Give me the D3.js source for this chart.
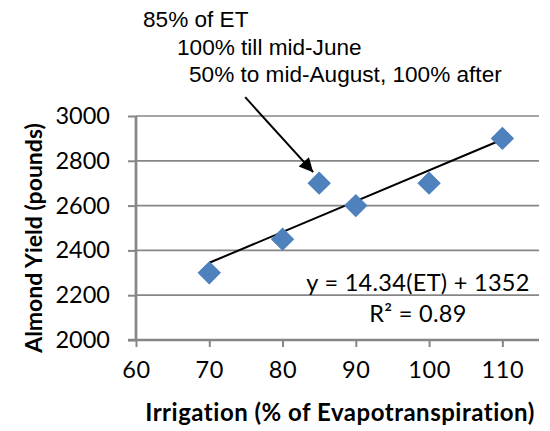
<!DOCTYPE html>
<html>
<head>
<meta charset="utf-8">
<script src="https://cdn.jsdelivr.net/npm/d3@7"></script>
<style>
  body { margin: 0; background: #fff; }
  svg { display: block; }
</style>
</head>
<body>
<div id="chart"></div>
<script>
// data
const irrigation = [70, 80, 85, 90, 100, 110];
const yieldLbs = [2300, 2450, 2700, 2600, 2700, 2900];
const xTicks = [60, 70, 80, 90, 100, 110];
const yTicks = [2000, 2200, 2400, 2600, 2800, 3000];
const noteLines = ["85% of ET", "100% till mid-June", "50% to mid-August, 100% after"];
const equationLines = ["y = 14.34(ET) + 1352", "R² = 0.89"];

const W = 550, H = 431;
const margin = {top: 116, right: 11, bottom: 91, left: 136};
const width = W - margin.left - margin.right,
      height = H - margin.top - margin.bottom;

const axisColor = "#868686";
const tickFont = "Lato, 'Open Sans', sans-serif";

const svg = d3.select("#chart")
  .append("svg")
    .attr("width", W)
    .attr("height", H);

const g = svg.append("g")
    .attr("transform", `translate(${margin.left},${margin.top})`);

const x = d3.scaleLinear().domain([60, 115]).range([0, width]);
const y = d3.scaleLinear().domain([2000, 3000]).range([height, 0]);

// horizontal gridlines
g.selectAll("line.grid")
  .data(yTicks.filter(d => d > 2000))
  .enter().append("line")
    .attr("class", "grid")
    .attr("x1", 0).attr("x2", width)
    .attr("y1", d => y(d)).attr("y2", d => y(d))
    .attr("stroke", axisColor)
    .attr("stroke-width", 1.7);

// Y axis
const yAxis = g.append("g")
  .call(d3.axisLeft(y).tickValues(yTicks).tickSize(8).tickPadding(18).tickFormat(d3.format("d")));
yAxis.select(".domain").attr("stroke", axisColor).attr("stroke-width", 2.7);
yAxis.selectAll(".tick line").attr("stroke", axisColor).attr("stroke-width", 2);
yAxis.selectAll("text")
  .attr("fill", "#000")
  .style("font-family", tickFont)
  .style("font-size", "23.5px");

// X axis
const xAxis = g.append("g")
  .attr("transform", `translate(0,${height})`)
  .call(d3.axisBottom(x).tickValues(xTicks).tickSize(7).tickPadding(14).tickFormat(d3.format("d")));
xAxis.select(".domain").attr("stroke", axisColor).attr("stroke-width", 2.7);
xAxis.selectAll(".tick line").attr("stroke", axisColor).attr("stroke-width", 2);
xAxis.selectAll("text")
  .attr("fill", "#000")
  .style("font-family", tickFont)
  .style("font-size", "23.5px")
  .style("letter-spacing", "0.6px");
// remove the outer tick caps d3 draws on the domain path
yAxis.select(".domain").attr("d", `M0,${height + 1}V0`);
xAxis.select(".domain").attr("d", `M-8,0H${width}`);

// least squares trend line over the data
const mx = d3.mean(irrigation), my = d3.mean(yieldLbs);
const sxy = d3.sum(irrigation, (v, i) => (v - mx) * (yieldLbs[i] - my));
const sxx = d3.sum(irrigation, v => (v - mx) * (v - mx));
const slope = sxy / sxx, intercept = my - slope * mx;
const xExt = d3.extent(irrigation);

g.append("line")
  .attr("x1", x(xExt[0])).attr("y1", y(intercept + slope * xExt[0]))
  .attr("x2", x(xExt[1])).attr("y2", y(intercept + slope * xExt[1]))
  .attr("stroke", "#000")
  .attr("stroke-width", 2);

// diamond markers
const diamond = d3.symbol().type(d3.symbolSquare).size(240);
g.selectAll("path.pt")
  .data(irrigation.map((v, i) => ({x: v, y: yieldLbs[i]})))
  .enter().append("path")
    .attr("class", "pt")
    .attr("d", diamond)
    .attr("transform", d => `translate(${x(d.x)},${y(d.y)}) rotate(45)`)
    .attr("fill", "#4f81bd")
    .attr("stroke", "#4a7ebb")
    .attr("stroke-width", 1);

// equation label
g.selectAll("text.eq")
  .data(equationLines)
  .enter().append("text")
    .attr("class", "eq")
    .attr("x", width - 121)
    .attr("y", (d, i) => y(2200) - 4 + i * 31)
    .attr("text-anchor", "middle")
    .style("font-family", tickFont)
    .style("font-size", "23.5px")
    .style("letter-spacing", "0.3px")
    .text(d => d);

// annotation with arrow to the 85% point
const defs = svg.append("defs");
defs.append("marker")
  .attr("id", "arrow")
  .attr("viewBox", "0 0 10 10")
  .attr("refX", 10).attr("refY", 5)
  .attr("markerWidth", 8).attr("markerHeight", 7)
  .attr("markerUnits", "strokeWidth")
  .attr("orient", "auto")
  .append("path")
    .attr("d", "M0,0L10,5L0,10z")
    .attr("fill", "#000");

const target = {x: x(85), y: y(2700)};
g.append("line")
  .attr("x1", target.x - 74).attr("y1", target.y - 86)
  .attr("x2", target.x - 6).attr("y2", target.y - 11)
  .attr("stroke", "#000")
  .attr("stroke-width", 2)
  .attr("marker-end", "url(#arrow)");

const indents = [143, 177, 189];
svg.selectAll("text.note")
  .data(noteLines)
  .enter().append("text")
    .attr("class", "note")
    .attr("x", (d, i) => indents[i])
    .attr("y", (d, i) => 27 + i * 27.5)
    .style("font-family", "'Liberation Sans', Arial, sans-serif")
    .style("font-size", "22.6px")
    .text(d => d);

// axis titles
svg.append("text")
  .attr("x", margin.left + 204)
  .attr("y", 421)
  .attr("text-anchor", "middle")
  .style("font-family", tickFont)
  .style("font-weight", "bold")
  .style("font-size", "24px")
  .style("letter-spacing", "0.5px")
  .text("Irrigation (% of Evapotranspiration)");

svg.append("text")
  .attr("transform", "translate(42,238) rotate(-90)")
  .attr("text-anchor", "middle")
  .style("font-family", tickFont)
  .style("font-weight", "bold")
  .style("font-size", "23px")
  .text("Almond Yield (pounds)");
</script>
</body>
</html>
